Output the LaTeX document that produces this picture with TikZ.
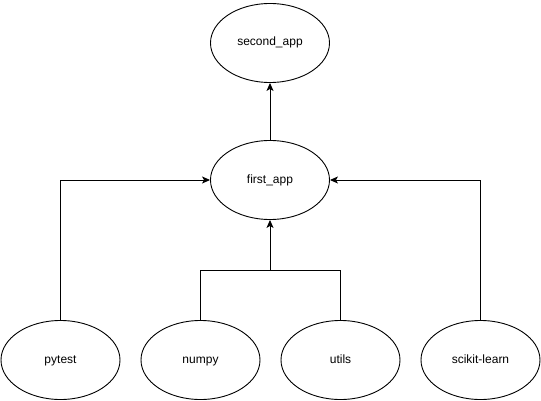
\documentclass[tikz,border=0pt]{standalone}
\usepackage{fontspec}
\setmainfont{Liberation Sans}
\usetikzlibrary{arrows.meta,shapes.geometric}
\begin{document}
\begin{tikzpicture}[x=1pt,y=-1pt,
  ell/.style={draw=black,line width=0.9pt,ellipse,minimum width=119pt,minimum height=79pt,inner sep=0pt,text height=8.6pt,text depth=2.6pt,font=\fontsize{12}{14}\selectfont},
  conn/.style={draw=black,line width=0.9pt,-{Stealth[length=8pt,width=7pt,inset=2pt]}}]
\useasboundingbox (0,0) rectangle (541,401);
\node[ell] (second) at (270,43) {second\_app};
\node[ell] (first) at (270,180) {first\_app};
\node[ell] (pytest) at (60.5,360) {pytest};
\node[ell] (numpy) at (200.5,360) {numpy};
\node[ell] (utils) at (340.5,360) {utils};
\node[ell] (sk) at (480.5,360) {scikit-learn};
\coordinate (mid) at (270,270);
\draw[conn] (first.north) -- (second.south);
\draw[conn] (pytest.north) |- (first.west);
\draw[conn] (sk.north) |- (first.east);
\draw[line width=0.9pt] (numpy.north) |- (mid);
\draw[line width=0.9pt] (utils.north) |- (mid);
\draw[conn] (mid) -- (first.south);
\end{tikzpicture}
\end{document}
